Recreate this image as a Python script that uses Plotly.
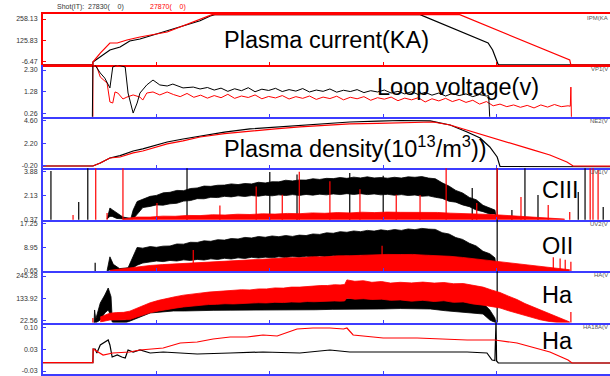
import plotly.graph_objects as go
from plotly.subplots import make_subplots

# ---------------- data (time axis 0..1000, arbitrary units) ----------------
x_tick_vals = [200, 400, 600, 800]
panel_tags = ["IPM(KA", "VP1(V", "NE2(V", "UV1(V", "UV2(V", "HA(V", "HA18A(V"]
panel_titles = ["Plasma current(KA)", "Loop voltage(v)",
                "Plasma density(10<sup>13</sup>/m<sup>3</sup>))", "CIII", "OII", "Ha", "Ha"]
tick_top = [258.13, 2.30, 4.60, 3.88, 17.25, 245.28, 0.10]
tick_bot = [-6.47, 0.26, -0.20, 0.37, 0.65, 22.56, -0.03]
tick_top_text = ["258.13", "2.30", "4.60", "3.88", "17.25", "245.28", "0.10"]
tick_mid_text = ["125.83", "1.28", "2.20", "2.13", "8.95", "133.92", "0.03"]
tick_bot_text = ["-6.47", "0.26", "-0.20", "0.37", "0.65", "22.56", "-0.03"]
shot_label = "Shot(IT):"
shot_black = "27830(    0)"
shot_red = "27870(    0)"

# Panel 1: plasma current
ip_black_t = [0, 88, 88, 101, 118, 136, 153, 171, 224, 277, 295, 303, 665, 785, 793, 801, 803, 1000]
ip_black = [-27, -27, -10, 21.5, 65.1, 83.8, 121.2, 133.6, 189.6, 247.5, 277, 285, 285, 108.7, 65, 0, -27, -27]
ip_red_t = [0, 88, 88, 101, 118, 131, 148, 171, 219, 277, 298, 735, 929, 931, 1000]
ip_red = [-27, -27, -9.6, 46.4, 108.7, 108.7, 127.4, 146.1, 177.2, 256.3, 285, 285, 2.9, -27, -27]

# Panel 2: loop voltage
vl_black_t = [0, 87, 88, 92, 101, 109, 118, 123, 131, 145, 150, 157, 159, 166, 171, 183, 194, 206,
              219, 229, 247, 265, 277, 290, 302, 314, 326, 338, 350, 362, 374, 386, 398, 410, 422,
              434, 446, 458, 470, 482, 494, 506, 518, 530, 542, 554, 566, 578, 590, 602, 614, 626,
              638, 650, 662, 674, 686, 698, 710, 722, 734, 746, 758, 770, 782, 786, 788, 1000]
vl_black = [0.0, 0.0, 2.6, 2.53, 2.16, 1.92, 1.46, 2.44, 2.55, 2.44, 1.22, 0.42, 0.28, 0.75, 1.22,
            1.60, 1.83, 1.60, 1.55, 1.64, 1.46, 1.50, 1.41, 1.48, 1.36, 1.45, 1.30, 1.42, 1.33, 1.47,
            1.28, 1.40, 1.34, 1.44, 1.29, 1.38, 1.31, 1.43, 1.27, 1.36, 1.30, 1.41, 1.26, 1.35, 1.29,
            1.38, 1.24, 1.33, 1.27, 1.36, 1.22, 1.30, 1.18, 1.28, 1.15, 1.25, 1.12, 1.22, 1.08, 1.20,
            1.10, 1.18, 1.05, 1.15, 1.08, 1.10, 0.0, 0.0]
vl_red_t = [0, 88, 88, 92, 95, 101, 113, 118, 123, 127, 132, 141, 148, 159, 171, 176, 183, 194, 206,
            219, 230, 242, 254, 266, 278, 290, 302, 314, 326, 338, 350, 362, 374, 386, 398, 410, 422,
            434, 446, 458, 470, 482, 494, 506, 518, 530, 542, 554, 566, 578, 590, 602, 614, 626, 638,
            650, 662, 674, 686, 698, 710, 722, 734, 746, 758, 770, 782, 794, 806, 818, 830, 842, 854,
            866, 878, 890, 902, 914, 926, 930, 931, 932, 1000]
vl_red = [0.0, 0.0, 3.0, 2.5, 2.44, 1.97, 1.69, 0.80, 0.75, 1.27, 1.22, 0.94, 1.03, 1.13, 1.03, 0.89,
          1.22, 1.27, 1.13, 1.27, 1.15, 1.05, 1.20, 1.02, 1.12, 0.98, 1.10, 1.00, 1.16, 0.97, 1.08,
          1.01, 1.13, 0.95, 1.06, 0.99, 1.10, 0.94, 1.05, 0.97, 1.08, 0.92, 1.03, 0.96, 1.07, 0.90,
          1.02, 0.95, 1.05, 0.88, 1.00, 0.93, 1.03, 0.86, 0.98, 0.90, 1.00, 0.80, 0.95, 0.85, 0.97,
          0.82, 0.92, 0.78, 0.88, 0.70, 0.82, 0.62, 0.70, 0.58, 0.66, 0.55, 0.64, 0.52, 0.66, 0.56,
          0.68, 0.58, 0.62, 0.60, 1.50, 0.0, 0.0]

# Panel 3: plasma density
ne_black_t = [0, 88, 101, 118, 136, 159, 176, 194, 219, 247, 277, 320, 365, 410, 453, 500, 541, 590,
              630, 683, 718, 748, 771, 788, 801, 806, 1000]
ne_black = [-0.20, -0.20, 0.12, 0.65, 0.90, 1.40, 1.62, 1.93, 2.36, 2.68, 3.00, 3.40, 3.75, 3.95,
            4.17, 4.35, 4.49, 4.58, 4.65, 4.60, 4.17, 3.43, 2.79, 1.83, 0.76, -0.25, -0.28]
ne_red_t = [0, 88, 101, 118, 136, 159, 176, 194, 219, 247, 277, 320, 365, 410, 453, 500, 541, 590,
            630, 688, 718, 748, 776, 806, 836, 864, 894, 924, 935, 1000]
ne_red = [-0.20, -0.20, 0.12, 0.65, 0.76, 1.19, 1.40, 1.72, 2.15, 2.47, 2.89, 3.25, 3.53, 3.75, 3.96,
          4.13, 4.28, 4.35, 4.39, 4.49, 4.17, 3.64, 3.11, 2.57, 2.04, 1.51, 0.97, 0.23, -0.20, -0.22]

# Panel 4: CIII (noise envelope: lower / upper)
c3_black_t = [113, 118, 122, 130, 141, 155,
              159, 166, 176, 189, 200, 212, 224, 236, 248, 260, 272, 284, 296, 308, 320, 332, 344,
              356, 368, 380, 392, 404, 416, 428, 440, 452, 464, 476, 488, 500, 512, 524, 536, 548,
              560, 572, 584, 596, 608, 620, 632, 644, 656, 668, 680, 692, 704, 716, 728, 740, 752,
              764, 776, 788, 797, 800]
c3_black_hi = [0.41, 1.22, 1.10, 0.85, 0.55, 0.45,
               1.07, 1.70, 1.86, 2.08, 2.15, 2.34, 2.38, 2.52, 2.50, 2.66, 2.70, 2.84, 2.82, 2.90,
               2.91, 3.00, 2.95, 3.03, 3.00, 3.12, 3.07, 3.16, 3.15, 3.27, 3.22, 3.29, 3.28, 3.38,
               3.33, 3.41, 3.39, 3.47, 3.41, 3.50, 3.44, 3.52, 3.44, 3.47, 3.42, 3.49, 3.43, 3.52,
               3.49, 3.54, 3.43, 3.38, 3.08, 2.84, 2.52, 2.33, 2.00, 1.83, 1.42, 1.23, 1.07, 0.41]
c3_black_lo = [0.41, 0.60, 0.60, 0.45, 0.41, 0.41,
               0.41, 0.75, 1.25, 1.34, 1.45, 1.43, 1.53, 1.57, 1.73, 1.77, 1.91, 1.90, 2.01, 1.99,
               2.08, 2.04, 2.12, 2.07, 2.14, 2.09, 2.17, 2.12, 2.19, 2.14, 2.21, 2.15, 2.22, 2.17,
               2.24, 2.19, 2.26, 2.21, 2.28, 2.22, 2.28, 2.21, 2.26, 2.19, 2.23, 2.16, 2.21, 2.14,
               2.18, 2.09, 2.12, 2.01, 1.93, 1.72, 1.65, 1.45, 1.32, 1.07, 0.95, 0.77, 0.78, 0.41]
c3_red_t = [141, 165, 189, 211, 233, 255, 277, 299, 321, 343, 365, 387, 409, 431, 453, 475, 497, 519,
            541, 563, 585, 607, 630, 652, 674, 696, 718, 748, 776, 806, 836, 857, 877, 900, 920]
c3_red_hi = [0.41, 0.55, 0.55, 0.62, 0.61, 0.67, 0.66, 0.72, 0.70, 0.76, 0.74, 0.79, 0.77, 0.82,
             0.80, 0.86, 0.83, 0.88, 0.86, 0.91, 0.88, 0.92, 0.90, 0.91, 0.88, 0.89, 0.84, 0.82,
             0.76, 0.70, 0.62, 0.55, 0.49, 0.44, 0.40]
c3_black_spike_t = [14, 63, 79, 254, 400, 448, 541, 600, 757, 801, 827, 850, 873, 944, 956, 988]
c3_black_spike_top = [3.95, 1.66, 4.30, 4.30, 3.88, 3.70, 3.80, 3.60, 2.70, 4.30, 1.07, 4.30, 2.18,
                      2.40, 4.30, 1.29]
c3_red_spike_t = [53, 93, 113, 141, 201, 312, 376, 422, 452, 506, 559, 623, 665, 711, 765, 801, 843,
                  891, 929, 965, 970, 979]
c3_red_spike_top = [0.70, 4.30, 0.85, 4.30, 1.59, 1.40, 2.80, 2.20, 3.90, 3.20, 2.60, 2.20, 2.18,
                    4.30, 1.59, 4.30, 2.03, 1.44, 0.92, 4.30, 4.30, 4.03]

# Panel 5: OII
o2_black_t = [113, 118, 124, 135, 150,
              159, 166, 176, 189, 200, 212, 224, 236, 248, 260, 272, 284, 296, 308, 320, 332, 344,
              356, 368, 380, 392, 404, 416, 428, 440, 452, 464, 476, 488, 500, 512, 524, 536, 548,
              560, 572, 584, 596, 608, 620, 632, 644, 656, 668, 680, 692, 704, 716, 728, 740, 752,
              764, 776, 788, 797, 800]
o2_black_hi = [0.75, 5.62, 3.0, 1.5, 1.8,
               5.7, 8.9, 8.65, 9.2, 8.95, 9.35, 9.4, 10.1, 10.05, 10.7, 10.65, 11.2, 11.05, 11.6,
               11.45, 12.0, 11.85, 12.4, 12.2, 12.7, 12.45, 12.9, 12.65, 13.05, 12.75, 13.2, 13.05,
               13.6, 13.45, 14.0, 13.85, 14.4, 14.2, 14.65, 14.4, 14.85, 14.6, 15.05, 14.75, 15.15,
               14.85, 15.35, 15.1, 15.55, 15.3, 15.2, 14.05, 13.6, 12.35, 11.7, 10.35, 9.4, 7.55,
               6.7, 5.27, 0.75]
o2_black_lo = [0.75, 1.0, 0.9, 0.8, 0.8,
               1.8, 2.7, 3.45, 3.75, 4.15, 3.95, 4.35, 4.15, 4.55, 4.35, 4.72, 4.5, 4.9, 4.7, 5.1,
               4.85, 5.25, 5.05, 5.45, 5.18, 5.51, 5.25, 5.6, 5.35, 5.7, 5.46, 5.81, 5.55, 5.9, 5.65,
               6.0, 5.75, 6.1, 5.85, 6.2, 5.93, 6.25, 6.0, 6.35, 6.1, 6.45, 6.1, 6.3, 5.9, 6.11,
               5.55, 5.65, 5.12, 5.05, 4.25, 4.05, 3.25, 3.05, 2.15, 1.80, 0.75]
o2_red_t = [118, 140, 159, 175, 189, 211, 233, 255, 277, 299, 321, 343, 365, 387, 409, 431, 453, 475,
            497, 519, 541, 563, 585, 607, 630, 652, 674, 696, 718, 740, 762, 784, 806, 824, 841, 859,
            877, 890, 903, 916, 929]
o2_red_hi = [0.9, 1.5, 2.0, 2.35, 2.6, 2.9, 3.15, 3.4, 3.7, 3.95, 4.15, 4.4, 4.55, 4.8, 4.95, 5.25,
             5.3, 5.6, 5.6, 5.95, 6.0, 6.2, 6.2, 6.45, 6.4, 6.45, 6.2, 6.1, 5.8, 5.4, 4.9, 4.4, 3.95,
             3.55, 3.05, 2.65, 2.2, 1.9, 1.6, 1.35, 1.1]
o2_black_spike_t = [92, 801]
o2_black_spike_top = [3.53, 19.0]
o2_red_spike_t = [265, 598, 900, 912, 921, 931]
o2_red_spike_top = [8.0, 9.5, 5.5, 5.0, 4.6, 3.88]

# Panel 6: H-alpha
ha_black_t = [90, 91, 93, 101, 109, 115, 120, 122, 124, 145,
              159, 175, 189, 210, 230, 250, 277, 300, 330, 360, 400, 430, 453, 480, 510, 540, 570,
              600, 630, 660, 683, 710, 735, 760, 776, 788, 797, 799]
ha_black_hi = [11, 75.9, 30, 110.7, 150.6, 185.5, 142.0, 36.0, 26.0, 26.0,
               50.9, 70, 85.8, 95, 105, 108, 110.7, 112, 114, 115, 115.7, 120, 125.7, 128, 130, 132,
               134, 135, 135.6, 138, 140.6, 130, 120.7, 115, 110.7, 75.9, 36.0, 11]
ha_black_lo = [11, 11, 11, 26.0, 60.9, 75.9, 46.0, 16.1, 11, 11,
               26, 45, 60.9, 66, 71, 71, 74, 74, 75, 75, 76, 76, 77, 77, 79, 79, 81, 81, 83, 81,
               81, 72, 66, 60, 55.9, 26, 16.1, 11]
ha_red_t = [101, 110, 118, 130, 142, 153, 165, 177, 189, 204, 218, 233, 248, 262, 277, 292, 306, 321,
            336, 350, 365, 380, 394, 409, 424, 438, 453, 466, 478, 490, 502, 514, 524, 532, 536, 550,
            565, 580, 597, 613, 630, 650, 670, 690, 707, 724, 741, 758, 776, 791, 806, 821, 836, 850,
            864, 877, 890, 901, 912, 921, 929]
ha_red_hi = [41, 52, 60, 63, 64, 70, 84, 98, 112, 124, 134, 142, 150, 156, 160, 165, 168, 172, 174,
             177, 176, 181, 181, 186, 185, 190, 190, 194, 194, 198, 198, 202, 201, 203, 226, 219, 222,
             214, 218, 210, 214, 211, 215, 210, 213, 207, 208, 199, 190, 176, 163, 145, 128, 108, 92,
             75, 62, 47, 38, 24, 16]
ha_red_lo = [16, 22, 26, 26, 28, 28, 40, 52, 62, 71, 79, 85, 91, 96, 100, 103, 104, 107, 106, 109,
             109, 112, 111, 114, 113, 116, 115, 118, 117, 119, 118, 121, 120, 121, 136, 130, 132, 128,
             130, 124, 126, 120, 124, 118, 122, 114, 116, 106, 100, 94, 86, 72, 60, 46, 36, 27, 20,
             14, 11, 11, 11]
ha_black_spike_t = [801]
ha_black_spike_top = [280.0]
ha_red_spike_t = [88, 931]
ha_red_spike_top = [36.0, 65.9]

# Panel 7: H-alpha (HA18A)
h18_black_t = [0, 88, 88.5, 92, 95, 101, 115, 118, 122, 131, 139, 145, 150, 159, 171, 189, 212, 242,
               272, 330, 388, 453, 506, 541, 600, 660, 748, 783, 792, 797, 799, 800, 803, 1000]
h18_black = [-0.0053, -0.0053, 0.0354, 0.0354, 0.0235, 0.0473, 0.0622, 0.0473, 0.0116, 0.0176,
             0.0116, 0.0087, 0.0325, 0.0265, 0.0325, 0.0235, 0.0265, 0.0235, 0.0205, 0.0235, 0.0265,
             0.0235, 0.0325, 0.0265, 0.0265, 0.0265, 0.0265, 0.0235, 0.0027, 0.0010, 0.12, 0.0,
             -0.0062, -0.0062]
h18_red_t = [0, 88, 88.5, 101, 106, 123, 153, 171, 212, 242, 272, 300, 330, 360, 388, 413, 448, 476,
             506, 530, 536, 547, 600, 660, 748, 797, 836, 894, 926, 933, 1000]
h18_red = [-0.0053, -0.0053, 0.0354, 0.0235, 0.0176, 0.0235, 0.0265, 0.0325, 0.0384, 0.0533, 0.0563,
           0.0652, 0.0711, 0.0711, 0.0771, 0.0741, 0.0949, 0.0979, 0.0979, 0.0949, 0.0979, 0.0771,
           0.0682, 0.0682, 0.0622, 0.0622, 0.0533, 0.0265, 0.0027, -0.0062, -0.0062]

# ---------------- layout settings ----------------
W, H = 610, 376
M_L, M_R, M_T, M_B = 43, 0, 14, 2
y_ranges = [[-30.8, 289.3], [0.101, 2.516], [-0.445, 5.037], [0.355, 4.153],
            [0.615, 18.58], [13.09, 269.7], [-0.0389, 0.114]]
RED = "#ff0000"
BLUE = "#3c3cff"
BLACK = "#000000"
title_pos = [(222, 40), (375, 87), (222, 147), (540, 190), (540, 246), (540, 295), (540, 341)]

fig = make_subplots(rows=7, cols=1, shared_xaxes=True, vertical_spacing=0)


def px2x(px):
    return (px - M_L) / (W - M_L - M_R)


def py2y(py):
    return (H - M_B - py) / (H - M_T - M_B)


def line(row, t, v, color, width=1.2):
    fig.add_trace(go.Scatter(x=t, y=v, mode="lines", line=dict(color=color, width=width),
                             hoverinfo="skip", showlegend=False), row=row, col=1)


def band(row, t, lo, hi, color):
    fig.add_trace(go.Scatter(x=t, y=lo, mode="lines", line=dict(color=color, width=0.8),
                             hoverinfo="skip", showlegend=False), row=row, col=1)
    fig.add_trace(go.Scatter(x=t, y=hi, mode="lines", line=dict(color=color, width=0.8),
                             fill="tonexty", fillcolor=color,
                             hoverinfo="skip", showlegend=False), row=row, col=1)


def base_band(row, t, hi, color):
    fig.add_trace(go.Scatter(x=t, y=hi, mode="lines", line=dict(color=color, width=0.8),
                             fill="tozeroy", fillcolor=color,
                             hoverinfo="skip", showlegend=False), row=row, col=1)


def spikes(row, ts, tops, base, color):
    xs, ys = [], []
    for t, h in zip(ts, tops):
        xs += [t, t, None]
        ys += [base, h, None]
    fig.add_trace(go.Scatter(x=xs, y=ys, mode="lines", line=dict(color=color, width=1.2),
                             hoverinfo="skip", showlegend=False), row=row, col=1)


# Panel 1
line(1, ip_black_t, ip_black, BLACK)
line(1, ip_red_t, ip_red, RED)
# Panel 2
line(2, vl_red_t, vl_red, RED, 1.0)
line(2, vl_black_t, vl_black, BLACK, 1.0)
# Panel 3
line(3, ne_black_t, ne_black, BLACK)
line(3, ne_red_t, ne_red, RED)
# Panel 4
band(4, c3_black_t, c3_black_lo, c3_black_hi, BLACK)
spikes(4, c3_black_spike_t, c3_black_spike_top, 0.3, BLACK)
base_band(4, c3_red_t, c3_red_hi, RED)
spikes(4, c3_red_spike_t, c3_red_spike_top, 0.3, RED)
# Panel 5
band(5, o2_black_t, o2_black_lo, o2_black_hi, BLACK)
spikes(5, o2_black_spike_t, o2_black_spike_top, 0.5, BLACK)
base_band(5, o2_red_t, o2_red_hi, RED)
spikes(5, o2_red_spike_t, o2_red_spike_top, 0.5, RED)
# Panel 6
band(6, ha_black_t, ha_black_lo, ha_black_hi, BLACK)
spikes(6, ha_black_spike_t, ha_black_spike_top, 5, BLACK)
band(6, ha_red_t, ha_red_lo, ha_red_hi, RED)
spikes(6, ha_red_spike_t, ha_red_spike_top, 5, RED)
# Panel 7
line(7, h18_black_t, h18_black, BLACK)
line(7, h18_red_t, h18_red, RED)

tick_font = dict(family="Liberation Sans Narrow, Arial Narrow, Liberation Sans, Arial", size=7, color="#333333")

for i in range(7):
    r = i + 1
    c = RED if i == 0 else BLUE
    mid = (tick_top[i] + tick_bot[i]) / 2
    fig.update_xaxes(row=r, col=1, range=[0, 1000], showgrid=False, zeroline=False,
                     showline=True, linecolor=c, linewidth=2, mirror=(i == 0),
                     ticks="inside", ticklen=3, tickwidth=1, tickcolor=c,
                     tickvals=x_tick_vals, showticklabels=False, fixedrange=True)
    fig.update_yaxes(row=r, col=1, range=y_ranges[i], showgrid=False, zeroline=False,
                     showline=True, linecolor=c, linewidth=2,
                     ticks="inside", ticklen=3, tickwidth=1, tickcolor=c,
                     tickvals=[tick_bot[i], mid, tick_top[i]],
                     ticktext=[tick_bot_text[i], tick_mid_text[i], tick_top_text[i]],
                     tickfont=tick_font, ticklabelstandoff=2, fixedrange=True)

annotations = []
# header
annotations.append(dict(x=px2x(55), y=py2y(7), xref="paper", yref="paper", text=shot_label,
                        showarrow=False, xanchor="left", yanchor="middle", font=tick_font))
annotations.append(dict(x=px2x(86), y=py2y(7), xref="paper", yref="paper", text=shot_black,
                        showarrow=False, xanchor="left", yanchor="middle", font=tick_font))
annotations.append(dict(x=px2x(148), y=py2y(7), xref="paper", yref="paper", text=shot_red,
                        showarrow=False, xanchor="left", yanchor="middle",
                        font=dict(family=tick_font["family"], size=7, color=RED)))
# right-hand channel tags
panel_h = (H - M_T - M_B) / 7
for i, tag in enumerate(panel_tags):
    top_py = M_T + i * panel_h
    annotations.append(dict(x=1.0, y=py2y(top_py + 4), xref="paper", yref="paper", text=tag,
                            showarrow=False, xanchor="right", yanchor="middle",
                            font=dict(family=tick_font["family"], size=6, color="#555555")))
# big titles
for (px, py), txt in zip(title_pos, panel_titles):
    annotations.append(dict(x=px2x(px), y=py2y(py), xref="paper", yref="paper", text=txt,
                            showarrow=False, xanchor="left", yanchor="middle",
                            font=dict(family="Liberation Sans, Arial", size=23.5, color=BLACK)))

fig.update_layout(width=W, height=H, margin=dict(l=M_L, r=M_R, t=M_T, b=M_B, pad=0),
                  paper_bgcolor="white", plot_bgcolor="white", showlegend=False,
                  annotations=annotations)

fig.write_html("out.html", config={"displayModeBar": False},
               post_script="document.body.style.margin='0';")
